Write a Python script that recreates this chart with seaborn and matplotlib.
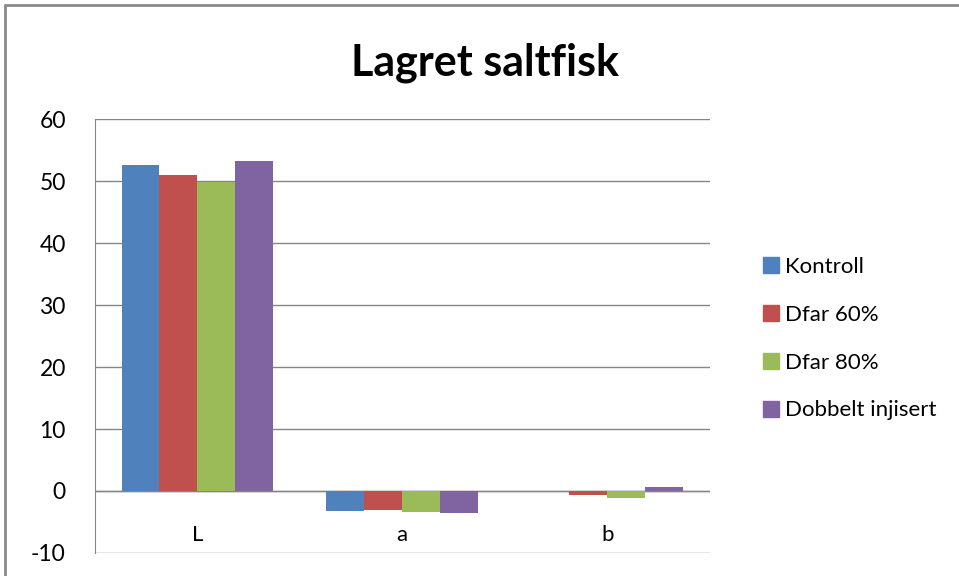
import matplotlib.pyplot as plt
import pandas as pd
import seaborn as sns
from matplotlib.lines import Line2D

# Data
categories = ["L", "a", "b"]
series = ["Kontroll", "Dfar 60%", "Dfar 80%", "Dobbelt injisert"]
kontroll = [52.6, -3.2, 0.0]
dfar_60 = [51.0, -3.0, -0.7]
dfar_80 = [49.8, -3.4, -1.1]
dobbelt = [53.2, -3.6, 0.7]
colors = ["#4F81BD", "#C0504D", "#9BBB59", "#8064A2"]

df = pd.DataFrame(
    {
        "kategori": categories * 4,
        "serie": [s for s in series for _ in categories],
        "verdi": kontroll + dfar_60 + dfar_80 + dobbelt,
    }
)

sns.set_style("white")
plt.rcParams["font.family"] = ["Lato", "DejaVu Sans"]
plt.rcParams["axes.unicode_minus"] = False
plt.rcParams["text.color"] = "black"
plt.rcParams["ytick.labelcolor"] = "black"

fig = plt.figure(figsize=(9.59, 5.76), dpi=100)
ax = fig.add_axes([0.099, 0.040, 0.641, 0.753])

sns.barplot(
    data=df,
    x="kategori",
    y="verdi",
    hue="serie",
    order=categories,
    hue_order=series,
    palette=colors,
    width=0.74,
    saturation=1,
    errorbar=None,
    linewidth=0,
    ax=ax,
)

# Axes styling in the Excel look
ax.set_xlim(-0.5, 2.5)
ax.set_ylim(-10, 60)
ax.set_yticks(range(-10, 61, 10))
ax.yaxis.grid(True, color="#868686", linewidth=1)
ax.set_axisbelow(True)
for side in ["top", "right", "bottom"]:
    ax.spines[side].set_visible(False)
ax.spines["left"].set_color("#868686")
ax.axhline(0, color="#868686", linewidth=1, zorder=0.5)
ax.tick_params(axis="y", length=5, color="#868686", labelsize=16.5, pad=16)
ax.set_xticks([])
ax.set_xlabel("")
ax.set_ylabel("")
for i, c in enumerate(categories):
    ax.text(i, -7.1, c, ha="center", va="center", fontsize=16)

# Legend
handles = [
    Line2D([], [], marker="s", linestyle="", markersize=12, color=col)
    for col in colors
]
ax.get_legend().remove()
fig.legend(
    handles,
    series,
    loc="center left",
    bbox_to_anchor=(0.772, 0.412),
    frameon=False,
    fontsize=16,
    handletextpad=0.1,
    labelspacing=1.25,
    handlelength=1.0,
)

fig.suptitle("Lagret saltfisk", x=0.506, y=0.926, fontsize=31, fontweight="bold")

# Chart frame edges
fig.add_artist(Line2D([5 / 959, 1], [1 - 5 / 576, 1 - 5 / 576], color="#8a8a8a", linewidth=2))
fig.add_artist(Line2D([5 / 959, 5 / 959], [0, 1 - 5 / 576], color="#8a8a8a", linewidth=2))

fig.savefig("out.png", dpi=100)
